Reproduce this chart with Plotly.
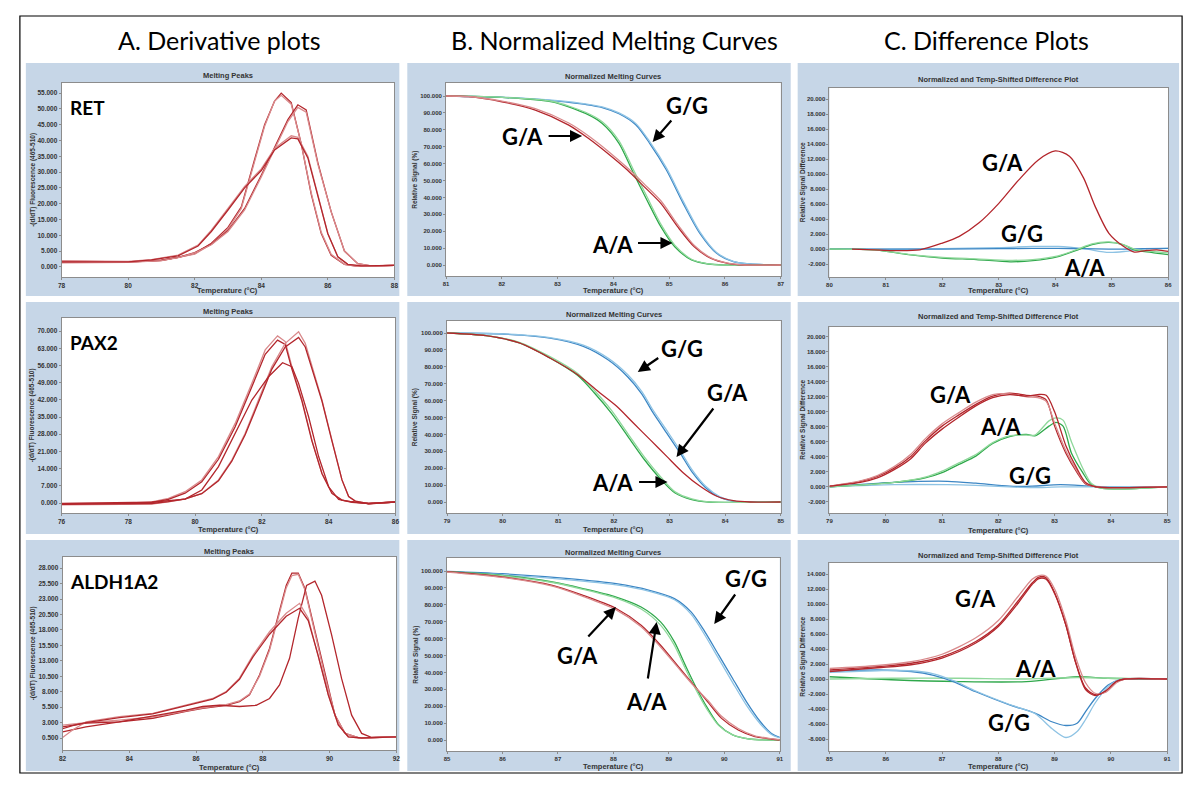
import plotly.graph_objects as go

W, H = 1200, 787

# ================= DATA =================
# --- A. Derivative plots: RET ---
RET_T1 = [78, 79, 80, 81, 81.5, 82, 82.5, 83, 83.4, 83.8, 84.1, 84.4, 84.6, 84.9, 85.2, 85.5, 85.8, 86.1, 86.5, 86.9, 87.3, 88]
RET_P1a = [1.8, 1.7, 1.6, 2.1, 3.0, 4.2, 7.5, 12.5, 19, 34, 45, 52.5, 55, 52, 39, 23, 10.6, 3.7, 0.8, 0.2, 0.3, 0.5]
RET_P1b = [1.5, 1.5, 1.6, 2.0, 2.9, 4.0, 7.2, 12.0, 18.5, 33.5, 44.5, 52.5, 54.3, 51.5, 39, 23.5, 11, 4, 0.8, 0.2, 0.3, 0.5]
RET_T2 = [78, 79, 80, 81, 81.5, 82, 82.5, 83, 83.5, 84, 84.4, 84.8, 85.1, 85.35, 85.7, 86.1, 86.5, 86.9, 87.3, 88]
RET_P2a = [1.4, 1.4, 1.5, 2.1, 3.0, 4.5, 7.2, 11.5, 18.5, 29, 38, 46.6, 51.3, 49.7, 33, 17.5, 5.0, 1.0, 0.3, 0.5]
RET_P2b = [1.3, 1.3, 1.4, 2.0, 2.9, 4.4, 7.0, 11.2, 18, 28.5, 37.5, 46, 50.5, 49, 32.5, 17.5, 5.0, 1.0, 0.3, 0.5]
RET_T3 = [78, 79, 80, 80.7, 81.5, 82.1, 82.5, 83, 83.5, 84, 84.4, 84.9, 85.1, 85.4, 85.7, 86.0, 86.3, 86.6, 87, 88]
RET_P3a = [1.9, 1.8, 1.7, 2.3, 3.7, 6.9, 11.6, 18.5, 25.5, 31, 37.5, 41.5, 41, 35, 23, 10.6, 3.2, 0.8, 0.3, 0.5]
RET_P3b = [1.6, 1.6, 1.6, 2.2, 3.5, 6.6, 11.2, 18, 25, 30.5, 37, 40.8, 40.5, 34.5, 22.5, 10.5, 3.2, 0.8, 0.3, 0.5]

# --- A. Derivative plots: PAX2 ---
PAX_T1 = [76, 77, 78, 78.7, 79.2, 79.7, 80.2, 80.7, 81.2, 81.7, 82.1, 82.47, 82.7, 82.9, 83.2, 83.5, 83.8, 84.1, 84.4, 84.7, 85.2, 86]
PAX_Q1a = [-0.3, -0.2, -0.1, 0.5, 1.9, 4.6, 9.4, 18.9, 32.4, 48.7, 62.3, 68, 65.7, 55.5, 42, 25.6, 12, 3.9, 1.2, 0.5, -0.2, 0.4]
PAX_Q1b = [-0.5, -0.4, -0.3, 0.2, 1.5, 4.0, 8.6, 17.8, 31.0, 47.3, 60.5, 66.3, 64.5, 54.5, 41.5, 25.2, 12, 3.9, 1.2, 0.5, -0.2, 0.4]
PAX_T2 = [76, 77, 78.2, 78.7, 79.2, 79.7, 80.2, 80.7, 81.1, 81.5, 81.9, 82.3, 82.7, 83.1, 83.3, 83.5, 83.8, 84.1, 84.4, 84.6, 84.8, 85.2, 86]
PAX_Q2a = [-0.8, -0.6, -0.4, -0.4, 0.5, 1.6, 3.9, 9.4, 17.5, 28.4, 42, 55.5, 65, 69.7, 65, 55.5, 42, 25.6, 9.4, 2.6, 0.8, -0.3, 0.4]
PAX_Q2b = [-0.5, -0.4, -0.3, -0.2, 0.6, 1.7, 3.8, 9.0, 17.0, 27.8, 41.0, 54.5, 63.5, 67.4, 63.5, 54.5, 41.5, 25.2, 9.4, 2.6, 0.8, -0.3, 0.4]
PAX_T3 = [76, 77, 78, 78.7, 79.7, 80.2, 80.7, 81.2, 81.7, 82.2, 82.62, 82.9, 83.1, 83.4, 83.7, 84.0, 84.3, 84.7, 85.2, 86]
PAX_Q3 = [-0.2, -0.1, 0, 0.3, 1.6, 5.3, 14.8, 28.4, 41.9, 51.4, 57.1, 55.5, 48.7, 35.1, 18.9, 6.6, 1.5, 0.3, -0.2, 0.4]

# --- A. Derivative plots: ALDH1A2 ---
ALD_T1 = [82, 82.7, 83.7, 84.7, 85.7, 86.2, 86.9, 87.3, 87.6, 87.9, 88.2, 88.5, 88.7, 88.87, 89.06, 89.26, 89.56, 89.86, 90.16, 90.46, 90.86, 91.25, 92]
ALD_R1a = [1.5, 2.3, 3.1, 3.7, 4.8, 5.3, 5.8, 6.4, 7.5, 10.7, 15, 20.9, 25.2, 27.2, 27.2, 24.7, 17.7, 10.7, 4.2, 1.25, 0.55, 0.55, 0.7]
ALD_R1b = [2.6, 3.0, 3.4, 3.9, 4.9, 5.4, 5.9, 6.5, 7.6, 10.5, 14.7, 20.5, 24.8, 26.8, 27.0, 24.5, 17.5, 10.5, 4.2, 1.25, 0.55, 0.55, 0.7]
ALD_T2 = [82, 82.7, 83.7, 84.7, 85.7, 86.2, 86.7, 87.3, 87.8, 88.2, 88.5, 88.8, 89.06, 89.31, 89.56, 89.76, 90.06, 90.36, 90.66, 90.96, 91.25, 92]
ALD_R2 = [2.3, 2.9, 3.1, 4.0, 5.0, 5.6, 5.8, 5.6, 5.8, 6.9, 9.1, 13.4, 19.9, 25.2, 25.9, 23.6, 17.2, 10.1, 4.2, 1.25, 0.6, 0.7]
ALD_T3 = [82, 82.3, 82.7, 83.7, 84.7, 85.7, 86.5, 86.9, 87.3, 87.7, 88.2, 88.7, 89.1, 89.36, 89.66, 89.96, 90.26, 90.56, 90.96, 92]
ALD_R3a = [0.6, 1.8, 3.1, 3.95, 4.5, 5.8, 6.9, 8, 10.2, 13.9, 17.7, 20.7, 22.3, 19.9, 13.9, 7.5, 2.6, 0.7, 0.5, 0.7]
ALD_R3b = [2.0, 2.5, 3.0, 3.8, 4.4, 5.7, 6.8, 7.9, 10.0, 13.6, 17.3, 20.2, 21.5, 19.5, 13.8, 7.5, 2.6, 0.7, 0.5, 0.7]

# --- B. Normalized melting curves: RET ---
NRET_GG_T = [81, 82, 82.5, 83, 83.5, 83.8, 84.1, 84.4, 84.65, 84.95, 85.25, 85.55, 85.85, 86.15, 86.45, 87]
NRET_GG = [100, 99.2, 98.3, 97, 95, 93.2, 89.5, 83, 72, 56.2, 36.5, 18.7, 6.9, 2.0, 0.6, 0]
NRET_GG2 = [100, 99.3, 98.5, 97.3, 95.4, 93.6, 90, 83.8, 73, 57.5, 37.8, 19.6, 7.4, 2.2, 0.6, 0]
NRET_GA_T = [81, 81.4, 82, 82.6, 83.2, 83.55, 83.9, 84.25, 84.55, 84.85, 85.15, 85.45, 85.75, 86.05, 86.35, 87]
NRET_GA = [100, 99.6, 96.6, 91.7, 82.8, 75, 66, 56.2, 46.4, 36.5, 22.7, 10.8, 3.9, 1, 0, 0]
NRET_GA2 = [100, 99.7, 97.0, 92.5, 84, 76.5, 67.5, 57.5, 48, 38, 24, 11.5, 4.2, 1.1, 0, 0]
NRET_AA_T = [81, 81.5, 82.3, 82.9, 83.5, 83.8, 84.1, 84.35, 84.6, 84.85, 85.1, 85.4, 85.7, 86, 87]
NRET_AA = [100, 99.8, 98.6, 96.6, 89.7, 83.8, 72, 55, 38.5, 22.7, 10.8, 3, 0.6, 0, 0]
NRET_AA2 = [100, 99.8, 98.7, 96.9, 90.4, 84.8, 73.5, 57, 40.5, 24.2, 11.8, 3.4, 0.7, 0, 0]

# --- B. Normalized melting curves: PAX2 ---
NPAX_GG_T = [79, 80, 80.85, 81.45, 81.9, 82.25, 82.5, 82.7, 82.95, 83.2, 83.4, 83.65, 83.9, 84.15, 84.3, 85]
NPAX_GG = [100, 99.4, 97, 92.1, 84, 74, 64, 53, 40.8, 28.5, 18, 8.5, 2.8, 0.4, 0, 0]
NPAX_GG2 = [100, 99.5, 97.3, 92.8, 85, 75.3, 65.5, 54.6, 42.4, 30, 19.3, 9.3, 3.2, 0.5, 0, 0]
NPAX_GA_T = [79, 79.7, 80.3, 80.85, 81.35, 81.75, 82.05, 82.35, 82.65, 82.95, 83.25, 83.55, 83.85, 84.15, 84.45, 85]
NPAX_GA = [100, 98.4, 94.1, 85.2, 75.3, 64.5, 56.6, 46.7, 36.9, 27, 17.2, 9.3, 3.4, 0.8, 0, 0]
NPAX_AA_T = [79, 79.7, 80.3, 80.85, 81.35, 81.65, 81.95, 82.25, 82.55, 82.85, 83.1, 83.4, 83.7, 85]
NPAX_AA = [100, 98.4, 94.1, 85.2, 74.8, 64.5, 52.7, 38.9, 25, 13.2, 5.3, 1.4, 0, 0]
NPAX_AA2 = [100, 98.5, 94.5, 86, 76, 66, 54.5, 40.5, 26.5, 14.5, 6, 1.8, 0.1, 0]

# --- B. Normalized melting curves: ALDH1A2 ---
NALD_GG_T = [85, 86, 87.2, 88.05, 88.65, 89.1, 89.4, 89.65, 89.9, 90.15, 90.4, 90.65, 90.85, 91]
NALD_GG = [99.8, 98.4, 95.5, 92.5, 88.6, 83.7, 75.8, 64, 50.2, 36.4, 22.6, 10.8, 3.9, 1.5]
NALD_GG2 = [99.5, 97.8, 94.8, 91.8, 88, 83, 74.5, 62, 48, 34, 20.5, 9.5, 3.3, 1.2]
NALD_GA_T = [85, 86, 86.9, 87.45, 88.05, 88.5, 88.85, 89.2, 89.45, 89.7, 89.95, 90.25, 90.55, 90.85, 91]
NALD_GA = [99.6, 96.5, 91.5, 85.6, 77.8, 67.9, 56.1, 42.3, 32.5, 22.6, 12.8, 5.9, 2, 0.6, 0]
NALD_GA2 = [99.4, 96.2, 91, 85, 77, 67, 55, 41.5, 32, 23.5, 14, 6.8, 2.5, 0.8, 0.2]
NALD_AA_T = [85, 86, 86.9, 87.45, 88.05, 88.5, 88.85, 89.1, 89.3, 89.5, 89.7, 89.9, 90.15, 90.45, 91]
NALD_AA = [99.6, 97.4, 93.5, 89.6, 84.6, 78.7, 69.9, 58.1, 44, 30.5, 18.7, 8.9, 3, 0.6, 0]
NALD_AA2 = [99.5, 97.2, 93.2, 89.2, 84, 77.5, 68, 56, 42, 29, 17.5, 8.5, 3, 0.6, 0]

# --- C. Difference plots: RET ---
DRET_GA_T = [80.4, 80.8, 81.1, 81.6, 82.0, 82.3, 82.65, 83.0, 83.35, 83.7, 84.0, 84.25, 84.5, 84.7, 84.95, 85.2, 85.4, 85.6, 85.8, 86]
DRET_GA = [0, -0.1, -0.2, -0.1, 0.8, 1.7, 3.5, 6.1, 9.2, 11.9, 13.1, 12.4, 9.5, 5.8, 2.1, 0.4, -0.4, -0.2, -0.1, -0.3]
DRET_GG_T = [80, 81, 82, 83, 83.6, 84.05, 84.5, 84.95, 85.25, 85.55, 86]
DRET_GG = [0, 0, 0.05, 0.2, 0.35, 0.35, 0.05, -0.45, -0.3, 0, 0.1]
DRET_GG2 = [0, 0, 0, 0.05, 0.1, 0.1, 0.05, 0, 0, 0.05, 0.1]
DRET_AA_T = [80, 80.8, 81.4, 82.0, 82.6, 83.2, 83.6, 84.05, 84.4, 84.65, 84.95, 85.2, 85.4, 85.7, 86]
DRET_AA = [0, -0.1, -0.75, -1.2, -1.4, -1.7, -1.55, -1.0, -0.1, 0.6, 0.9, 0.6, -0.1, -0.45, -0.75]
DRET_AA2 = [0, -0.1, -0.7, -1.1, -1.3, -1.5, -1.4, -0.9, 0, 0.7, 0.95, 0.6, 0, -0.3, -0.5]

# --- C. Difference plots: PAX2 ---
DPAX_GA_T = [79, 79.55, 79.85, 80.15, 80.45, 80.7, 81.0, 81.3, 81.6, 81.9, 82.2, 82.5, 82.7, 82.85, 83.0, 83.2, 83.4, 83.55, 83.75, 84, 85]
DPAX_GA = [0.1, 0.75, 1.4, 2.5, 4.1, 6.1, 8.1, 9.6, 11, 12.1, 12.5, 12.2, 12.1, 11.6, 8.1, 4.5, 1.9, 0.4, 0, -0.1, 0]
DPAX_GA2 = [0.1, 0.8, 1.5, 2.7, 4.4, 6.4, 8.4, 9.9, 11.3, 12.3, 12.4, 12.0, 11.9, 11.4, 8.5, 4.8, 2.1, 0.5, 0, -0.1, 0]
DPAX_GA3 = [0.1, 0.6, 1.2, 2.3, 3.8, 5.8, 7.7, 9.3, 10.8, 11.9, 12.3, 12.1, 12.3, 12.2, 10, 5.5, 2.4, 0.6, 0, -0.1, 0]
DPAX_AA_T = [79, 80.15, 80.7, 81.0, 81.3, 81.6, 81.9, 82.2, 82.5, 82.65, 82.9, 83.02, 83.15, 83.3, 83.5, 83.65, 83.85, 84.15, 85]
DPAX_AA = [0, 0.6, 1.2, 1.9, 3.0, 4.1, 5.8, 6.7, 7.0, 6.8, 8.1, 8.6, 8.1, 4.5, 1.9, 0.3, -0.2, -0.3, 0]
DPAX_AA2 = [0, 0.6, 1.3, 2.1, 3.2, 4.3, 5.9, 6.8, 6.9, 6.9, 8.8, 9.2, 8.9, 6.0, 2.5, 0.5, -0.2, -0.3, 0]
DPAX_GG_T = [79, 80.15, 81.1, 81.6, 82.2, 82.6, 83.1, 83.65, 84, 85]
DPAX_GG = [0, 0.6, 0.75, 0.5, 0.1, 0.1, 0.3, 0.1, 0, 0]
DPAX_GG2 = [0, 0.3, 0.3, 0.2, 0, -0.1, 0, 0, 0, 0]

# --- C. Difference plots: ALDH1A2 ---
DALD_GA_T = [85, 85.85, 86.45, 87.0, 87.6, 88.0, 88.35, 88.6, 88.72, 88.85, 89.0, 89.2, 89.37, 89.55, 89.72, 89.9, 90.1, 90.25, 91]
DALD_GA = [1.2, 1.65, 2.1, 3.0, 5.0, 7.2, 10.4, 12.8, 13.6, 13.5, 11.5, 7.2, 2.3, -1.2, -2.1, -1.7, -0.35, 0, 0]
DALD_GA2 = [1.4, 1.8, 2.3, 3.3, 5.5, 7.8, 11, 13.3, 13.8, 13.7, 12, 7.8, 3, -0.5, -1.9, -1.8, -0.5, 0, 0]
DALD_GA3 = [1.0, 1.5, 1.9, 2.8, 4.8, 7.0, 10.1, 12.6, 13.4, 13.3, 11.4, 7.2, 2.3, -1.4, -2.2, -1.6, -0.3, 0, 0]
DALD_GG_T = [85, 85.85, 86.45, 86.85, 87.2, 87.6, 88.2, 88.65, 88.95, 89.2, 89.4, 89.55, 89.72, 89.95, 90.15, 91]
DALD_GG = [1.0, 1.2, 1.0, 0.5, -0.35, -1.7, -3.45, -4.55, -5.7, -6.2, -5.9, -4.35, -2.6, -0.8, -0.1, 0]
DALD_GG2 = [0.9, 1.1, 1.1, 0.7, -0.2, -1.6, -3.4, -4.6, -6.6, -7.8, -7.0, -5.4, -3.2, -1.0, -0.1, 0]
DALD_AA_T = [85, 86.1, 87.3, 88.5, 89.4, 89.95, 91]
DALD_AA = [0.3, -0.1, -0.35, -0.35, 0.3, 0.1, 0]
DALD_AA2 = [0, 0.1, 0.1, 0, 0.2, 0.1, 0]

# axis settings per panel: x range, x ticks, y range, y ticks
X_RANGES = [[78, 88], [81, 87], [80, 86], [76, 86], [79, 85], [79, 85], [82, 92], [85, 91], [85, 91]]
X_DTICK = [2, 1, 1, 2, 1, 1, 2, 1, 1]
Y_RANGES = [[-3.2, 58.2], [-6.5, 107.7], [-3.73, 21.5],
            [-4.07, 75.3], [-6.5, 107.1], [-3.47, 21.3],
            [-1.44, 29.8], [-6.5, 107.7], [-9.6, 15.47]]
Y_TICK0 = [0, 0, -2, 0, 0, -2, 0.5, 0, -8]
Y_DTICK = [5, 10, 2, 7, 10, 2, 2.5, 10, 2]
Y_TICKMAX = [55, 100, 20, 70, 100, 20, 28, 100, 14]

PANEL_TITLES = ["Melting Peaks", "Normalized Melting Curves", "Normalized and Temp-Shifted Difference Plot"]
Y_TITLES = ["-(d/dT) Fluorescence (465-510)", "Relative Signal (%)", "Relative Signal Difference"]
GENES = ["RET", "PAX2", "ALDH1A2"]
COL_HEADERS = ["A. Derivative plots", "B. Normalized Melting Curves", "C. Difference Plots"]

# ================= LAYOUT GEOMETRY (pixels) =================
PLOT_BOX = [(58, 393, 83, 277), (445, 782, 83, 276), (831, 1172, 88, 277),
            (58, 394, 318, 513), (446, 782, 321, 513), (831, 1171, 327, 513),
            (59, 395, 557, 750), (446, 781, 558, 751), (831, 1171, 563, 751)]
TITLE_Y = [75, 76, 80, 311, 315, 316, 551, 552, 555]
XTITLE_Y = [291, 291, 291, 529, 529, 530, 767, 766, 766]
YTITLE_X = [29, 414, 804]
TICK_SIZE = [6.5, 6, 6]
PANEL_X = [(22, 398), (406, 792), (799, 1183)]
PANEL_Y = [(63, 296), (302, 534), (540, 771)]

RED, RED_L = "#B3262C", "#D98A8C"
BLUE, BLUE_L = "#3C86C4", "#8EC3E4"
GREEN, GREEN_L = "#2FA84B", "#8FD89B"


def px(x):
    return x / W


def py(y):
    return 1 - y / H


fig = go.Figure()

traces = [
    (1, RET_T1, RET_P1a, RED, "linear"), (1, RET_T1, RET_P1b, RED_L, "linear"),
    (1, RET_T2, RET_P2a, RED, "linear"), (1, RET_T2, RET_P2b, RED_L, "linear"),
    (1, RET_T3, RET_P3a, RED_L, "linear"), (1, RET_T3, RET_P3b, RED, "linear"),
    (4, PAX_T1, PAX_Q1a, RED_L, "linear"), (4, PAX_T1, PAX_Q1b, RED, "linear"),
    (4, PAX_T2, PAX_Q2a, RED_L, "linear"), (4, PAX_T2, PAX_Q2b, RED, "linear"),
    (4, PAX_T3, PAX_Q3, RED, "linear"),
    (7, ALD_T1, ALD_R1a, RED, "linear"), (7, ALD_T1, ALD_R1b, RED_L, "linear"),
    (7, ALD_T2, ALD_R2, RED, "linear"),
    (7, ALD_T3, ALD_R3a, RED_L, "linear"), (7, ALD_T3, ALD_R3b, RED, "linear"),
    (2, NRET_GG_T, NRET_GG, BLUE, "spline"), (2, NRET_GG_T, NRET_GG2, BLUE_L, "spline"),
    (2, NRET_AA_T, NRET_AA, GREEN, "spline"), (2, NRET_AA_T, NRET_AA2, GREEN_L, "spline"),
    (2, NRET_GA_T, NRET_GA, RED, "spline"), (2, NRET_GA_T, NRET_GA2, RED_L, "spline"),
    (5, NPAX_GG_T, NPAX_GG, BLUE, "spline"), (5, NPAX_GG_T, NPAX_GG2, BLUE_L, "spline"),
    (5, NPAX_AA_T, NPAX_AA, GREEN, "spline"), (5, NPAX_AA_T, NPAX_AA2, GREEN_L, "spline"),
    (5, NPAX_GA_T, NPAX_GA, RED, "spline"),
    (8, NALD_GG_T, NALD_GG, BLUE, "spline"), (8, NALD_GG_T, NALD_GG2, BLUE_L, "spline"),
    (8, NALD_AA_T, NALD_AA, GREEN, "spline"), (8, NALD_AA_T, NALD_AA2, GREEN_L, "spline"),
    (8, NALD_GA_T, NALD_GA, RED, "spline"), (8, NALD_GA_T, NALD_GA2, RED_L, "spline"),
    (3, DRET_GG_T, DRET_GG, BLUE_L, "spline"), (3, DRET_GG_T, DRET_GG2, BLUE, "spline"),
    (3, DRET_AA_T, DRET_AA, GREEN, "spline"), (3, DRET_AA_T, DRET_AA2, GREEN_L, "spline"),
    (3, DRET_GA_T, DRET_GA, RED, "spline"),
    (6, DPAX_GG_T, DPAX_GG, BLUE, "spline"), (6, DPAX_GG_T, DPAX_GG2, BLUE_L, "spline"),
    (6, DPAX_AA_T, DPAX_AA, GREEN, "spline"), (6, DPAX_AA_T, DPAX_AA2, GREEN_L, "spline"),
    (6, DPAX_GA_T, DPAX_GA, RED, "spline"), (6, DPAX_GA_T, DPAX_GA2, RED_L, "spline"),
    (6, DPAX_GA_T, DPAX_GA3, RED, "spline"),
    (9, DALD_AA_T, DALD_AA, GREEN, "spline"), (9, DALD_AA_T, DALD_AA2, GREEN_L, "spline"),
    (9, DALD_GG_T, DALD_GG, BLUE, "spline"), (9, DALD_GG_T, DALD_GG2, BLUE_L, "spline"),
    (9, DALD_GA_T, DALD_GA, RED, "spline"), (9, DALD_GA_T, DALD_GA2, RED_L, "spline"),
    (9, DALD_GA_T, DALD_GA3, RED, "spline"),
]

for p, xs, ys, col, shape in traces:
    sfx = "" if p == 1 else str(p)
    fig.add_trace(go.Scatter(x=xs, y=ys, mode="lines", xaxis="x" + sfx, yaxis="y" + sfx,
                             line=dict(color=col, width=1.3, shape=shape, smoothing=0.8),
                             showlegend=False, hoverinfo="skip"))

layout_axes = {}
for i in range(9):
    sfx = "" if i == 0 else str(i + 1)
    x0, x1, y0, y1 = PLOT_BOX[i]
    xr = X_RANGES[i]
    tf = dict(family="Arial, Liberation Sans", size=TICK_SIZE[i % 3], color="#333333", weight="bold")
    layout_axes["xaxis" + sfx] = dict(
        domain=[px(x0), px(x1)], range=xr, anchor="y" + sfx,
        tickmode="linear", tick0=xr[0], dtick=X_DTICK[i], tickformat="d",
        showgrid=False, zeroline=False, showline=True, mirror=True,
        linecolor="#8c8c8c", linewidth=1, ticks="outside", ticklen=2,
        tickcolor="#8c8c8c", tickfont=tf, fixedrange=True)
    yvals = []
    v = Y_TICK0[i]
    while v <= Y_TICKMAX[i] + 1e-9:
        yvals.append(round(v, 3))
        v += Y_DTICK[i]
    layout_axes["yaxis" + sfx] = dict(
        domain=[py(y1), py(y0)], range=Y_RANGES[i], anchor="x" + sfx,
        tickmode="array", tickvals=yvals, ticktext=[f"{t:.3f}" for t in yvals],
        showgrid=False, zeroline=False, showline=True, mirror=True,
        linecolor="#8c8c8c", linewidth=1, ticks="outside", ticklen=2,
        tickcolor="#8c8c8c", tickfont=tf, fixedrange=True)

shapes = []
# outer frame
shapes.append(dict(type="rect", xref="paper", yref="paper", x0=px(16), x1=px(1186),
                   y0=py(773), y1=py(16), line=dict(color="black", width=1.2),
                   fillcolor="rgba(0,0,0,0)", layer="below"))
for (a, b) in PANEL_X:
    for (c, d) in PANEL_Y:
        shapes.append(dict(type="rect", xref="paper", yref="paper", x0=px(a), x1=px(b),
                           y0=py(d), y1=py(c), line=dict(width=0),
                           fillcolor="#C6D6E7", layer="below"))
for (x0, x1, y0, y1) in PLOT_BOX:
    shapes.append(dict(type="rect", xref="paper", yref="paper", x0=px(x0), x1=px(x1),
                       y0=py(y1), y1=py(y0), line=dict(width=0),
                       fillcolor="white", layer="below"))

annotations = []
small_bold = dict(family="Arial, Liberation Sans", size=7.5, color="#333333", weight="bold")
for i in range(9):
    x0, x1, y0, y1 = PLOT_BOX[i]
    col = i % 3
    cx = (x0 + x1) / 2
    annotations.append(dict(text=PANEL_TITLES[col], x=px(cx), y=py(TITLE_Y[i]), xref="paper", yref="paper",
                            showarrow=False, xanchor="center", yanchor="middle", font=small_bold))
    annotations.append(dict(text="Temperature (°C)", x=px(cx), y=py(XTITLE_Y[i]), xref="paper", yref="paper",
                            showarrow=False, xanchor="center", yanchor="middle", font=small_bold))
    annotations.append(dict(text=Y_TITLES[col], x=px(YTITLE_X[col]), y=py((y0 + y1) / 2), xref="paper",
                            yref="paper", showarrow=False, textangle=-90, xanchor="center", yanchor="middle",
                            font=dict(family="Arial, Liberation Sans", size=6.5, color="#333333", weight="bold")))

# column headers
HEADER_X = [216, 615, 989]
for h, hx in zip(COL_HEADERS, HEADER_X):
    annotations.append(dict(text=h, x=px(hx), y=py(40), xref="paper", yref="paper", showarrow=False,
                            xanchor="center", yanchor="middle",
                            font=dict(family="Lato, Open Sans", size=25, color="black")))

# gene labels
big = dict(family="Lato, Open Sans", size=19, color="black", weight="bold")
for g, gy in zip(GENES, [107, 342, 581]):
    annotations.append(dict(text=g, x=px(64), y=py(gy), xref="paper", yref="paper", showarrow=False,
                            xanchor="left", yanchor="middle", font=big))

geno = dict(family="Lato, Open Sans", size=22, color="black", weight="bold")
GENO_LABELS = [("G/G", 688, 106), ("G/A", 522, 137), ("A/A", 613, 244),
               ("G/G", 683, 348), ("G/A", 728, 392), ("A/A", 613, 482),
               ("G/G", 747, 578), ("G/A", 577, 655), ("A/A", 647, 701),
               ("G/A", 1005, 163), ("G/G", 1025, 234), ("A/A", 1088, 267),
               ("G/A", 953, 394), ("A/A", 1003, 427), ("G/G", 1033, 475),
               ("G/A", 978, 598), ("A/A", 1038, 668), ("G/G", 1012, 722)]
for t, gx, gy in GENO_LABELS:
    annotations.append(dict(text=t, x=px(gx), y=py(gy), xref="paper", yref="paper", showarrow=False,
                            xanchor="center", yanchor="middle", font=geno))

# arrows: (tail x, tail y, head x, head y) in pixels
ARROWS = [(673, 119, 653, 142), (547, 136, 582, 136), (637, 243, 673, 243),
          (660, 357, 638, 372), (715, 407, 677, 457), (638, 482, 668, 482),
          (737, 593, 715, 624), (587, 638, 616, 607), (648, 680, 657, 622)]
for tx, ty, hx, hy in ARROWS:
    annotations.append(dict(text="", x=px(hx), y=py(hy), xref="paper", yref="paper", showarrow=True,
                            ax=tx - hx, ay=ty - hy, arrowhead=2, arrowsize=1.1, arrowwidth=2.2,
                            arrowcolor="black", standoff=0, startstandoff=0))

fig.update_layout(width=W, height=H, margin=dict(l=0, r=0, t=0, b=0),
                  paper_bgcolor="white", plot_bgcolor="white",
                  shapes=shapes, annotations=annotations, showlegend=False, **layout_axes)

fig.write_html("out.html", config={"displayModeBar": False},
               post_script="document.documentElement.style.margin='0';document.body.style.margin='0';"
                           "document.body.style.overflow='hidden';")
